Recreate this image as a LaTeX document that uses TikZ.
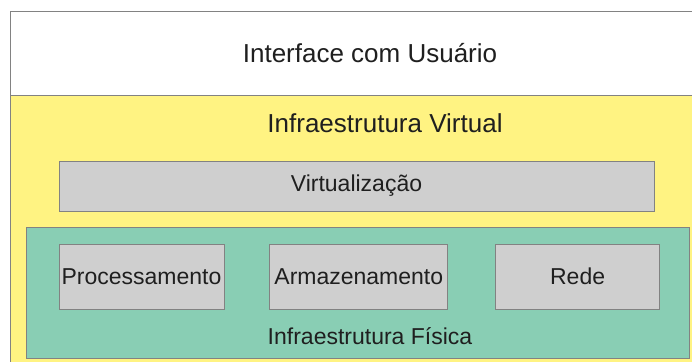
\documentclass[tikz,border=0pt]{standalone}
\usepackage{fontspec}
\setmainfont{Liberation Sans}
\usetikzlibrary{positioning}
\definecolor{camadaamarela}{RGB}{255,243,130}
\definecolor{camadaverde}{RGB}{137,206,180}
\definecolor{caixacinza}{RGB}{207,207,207}
\definecolor{bordacinza}{RGB}{130,130,130}
\tikzset{
  camada/.style={rectangle,draw=bordacinza,line width=0.8pt,inner sep=0pt,anchor=north west},
  caixa/.style={rectangle,draw=bordacinza,fill=caixacinza,line width=0.8pt,inner sep=0pt,minimum height=65pt,font=\fontsize{23}{27}\selectfont,text=black!88},
  titulo/.style={font=\fontsize{26}{30}\selectfont,text=black!88},
  rotulo/.style={font=\fontsize{23}{27}\selectfont,text=black!88}
}

\begin{document}
\begin{tikzpicture}[x=1pt,y=-1pt]
\useasboundingbox (0,0) rectangle (692,361);
\clip (0,0) rectangle (692,361);
\fill [white] (0,0) rectangle (692,361);
\node [camada,fill=white,minimum width=740pt,minimum height=84pt] (usuario) at (10,11) {};
\node [camada,fill=camadaamarela,minimum width=740pt,minimum height=300pt] (virtual) at (10,95) {};
\node [camada,fill=camadaverde,minimum width=663pt,minimum height=131pt] (fisica) at (26,227) {};
\node [titulo] (interface) at (370,53) {Interface com Usuário};
\node [titulo] (infravirtual) at (385,123) {Infraestrutura Virtual};
\node [caixa,minimum width=595pt,minimum height=50pt] (virtualizacao) at (356.5,186) {Virtualização};
\node [caixa,minimum width=165pt] (proc) at (141.5,276.5) {Processamento};
\node [caixa,minimum width=178pt,right=45pt of proc] (armaz) {Armazenamento};
\node [caixa,minimum width=164pt,right=47pt of armaz] (rede) {Rede};
\node [rotulo] (infrafisica) at (370,336) {Infraestrutura Física};
\end{tikzpicture}
\end{document}
